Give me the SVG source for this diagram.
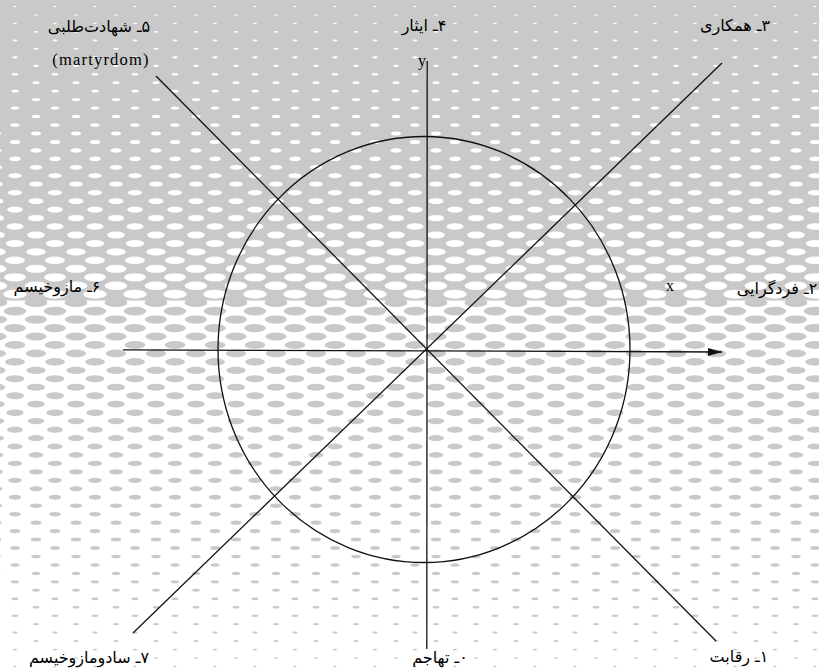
<svg xmlns="http://www.w3.org/2000/svg" width="819" height="669" viewBox="0 0 819 669">
<style>
.e,.o{fill:none;stroke-dasharray:0 40;stroke-linecap:round}
.e{stroke-dashoffset:4}
.o{stroke-dashoffset:25}
.w{stroke:#fff}
.g{stroke:#c9c9c9}
.ln{stroke:#111;stroke-width:1.3;fill:none}
.fa{font-family:"DejaVu Sans",sans-serif;font-size:16px;fill:#000;direction:rtl;text-anchor:middle}
.la{font-family:"Liberation Serif",serif;font-size:16px;fill:#000;text-anchor:middle}
</style>
<defs>
<marker id="ah" markerUnits="userSpaceOnUse" markerWidth="15" markerHeight="9" refX="14" refY="4.5" orient="auto"><path d="M0,0.5 L14,4.5 L0,8.5 z" fill="#111"/></marker>
</defs>
<g id="background">
<rect x="0" y="0" width="819" height="669" fill="#fff"/>
<rect x="0" y="0" width="819" height="300.5" fill="#c9c9c9"/>
<g transform="scale(1,0.38)">
<path class="e w" d="M-40 -5h900" stroke-width="2.92"/>
<path class="o w" d="M-40 17.26h900" stroke-width="3.27"/>
<path class="e w" d="M-40 39.53h900" stroke-width="3.62"/>
<path class="o w" d="M-40 61.79h900" stroke-width="3.99"/>
<path class="e w" d="M-40 84.05h900" stroke-width="4.38"/>
<path class="o w" d="M-40 106.32h900" stroke-width="4.78"/>
<path class="e w" d="M-40 128.58h900" stroke-width="5.19"/>
<path class="o w" d="M-40 150.84h900" stroke-width="5.62"/>
<path class="e w" d="M-40 173.11h900" stroke-width="6.06"/>
<path class="o w" d="M-40 195.37h900" stroke-width="6.52"/>
<path class="e w" d="M-40 217.63h900" stroke-width="6.99"/>
<path class="o w" d="M-40 239.89h900" stroke-width="7.48"/>
<path class="e w" d="M-40 262.16h900" stroke-width="7.98"/>
<path class="o w" d="M-40 284.42h900" stroke-width="8.49"/>
<path class="e w" d="M-40 306.68h900" stroke-width="9.02"/>
<path class="o w" d="M-40 328.95h900" stroke-width="9.56"/>
<path class="e w" d="M-40 351.21h900" stroke-width="10.12"/>
<path class="o w" d="M-40 373.47h900" stroke-width="10.69"/>
<path class="e w" d="M-40 395.74h900" stroke-width="11.28"/>
<path class="o w" d="M-40 418h900" stroke-width="11.88"/>
<path class="e w" d="M-40 440.26h900" stroke-width="12.49"/>
<path class="o w" d="M-40 462.53h900" stroke-width="13.12"/>
<path class="e w" d="M-40 484.79h900" stroke-width="13.76"/>
<path class="o w" d="M-40 507.05h900" stroke-width="14.42"/>
<path class="e w" d="M-40 529.32h900" stroke-width="15.09"/>
<path class="o w" d="M-40 551.58h900" stroke-width="15.78"/>
<path class="e w" d="M-40 573.84h900" stroke-width="16.48"/>
<path class="o w" d="M-40 596.11h900" stroke-width="17.19"/>
<path class="e w" d="M-40 618.37h900" stroke-width="17.92"/>
<path class="o w" d="M-40 640.63h900" stroke-width="18.66"/>
<path class="e w" d="M-40 662.89h900" stroke-width="19.42"/>
<path class="o w" d="M-40 685.16h900" stroke-width="20.19"/>
<path class="e w" d="M-40 707.42h900" stroke-width="20.98"/>
<path class="o w" d="M-40 729.68h900" stroke-width="21.78"/>
<path class="e w" d="M-40 751.95h900" stroke-width="22.59"/>
<path class="o w" d="M-40 774.21h900" stroke-width="23.42"/>
<path class="e g" d="M-40 796.47h900" stroke-width="22.92"/>
<path class="o g" d="M-40 818.74h900" stroke-width="22.47"/>
<path class="e g" d="M-40 841h900" stroke-width="22.02"/>
<path class="o g" d="M-40 863.26h900" stroke-width="21.57"/>
<path class="e g" d="M-40 885.53h900" stroke-width="21.13"/>
<path class="o g" d="M-40 907.79h900" stroke-width="20.68"/>
<path class="e g" d="M-40 930.05h900" stroke-width="20.23"/>
<path class="o g" d="M-40 952.32h900" stroke-width="19.78"/>
<path class="e g" d="M-40 974.58h900" stroke-width="19.33"/>
<path class="o g" d="M-40 996.84h900" stroke-width="18.88"/>
<path class="e g" d="M-40 1019.11h900" stroke-width="18.44"/>
<path class="o g" d="M-40 1041.37h900" stroke-width="17.99"/>
<path class="e g" d="M-40 1063.63h900" stroke-width="17.54"/>
<path class="o g" d="M-40 1085.89h900" stroke-width="17.09"/>
<path class="e g" d="M-40 1108.16h900" stroke-width="16.64"/>
<path class="o g" d="M-40 1130.42h900" stroke-width="16.19"/>
<path class="e g" d="M-40 1152.68h900" stroke-width="15.75"/>
<path class="o g" d="M-40 1174.95h900" stroke-width="15.3"/>
<path class="e g" d="M-40 1197.21h900" stroke-width="14.85"/>
<path class="o g" d="M-40 1219.47h900" stroke-width="14.4"/>
<path class="e g" d="M-40 1241.74h900" stroke-width="13.95"/>
<path class="o g" d="M-40 1264h900" stroke-width="13.5"/>
<path class="e g" d="M-40 1286.26h900" stroke-width="13.05"/>
<path class="o g" d="M-40 1308.53h900" stroke-width="12.61"/>
<path class="e g" d="M-40 1330.79h900" stroke-width="12.16"/>
<path class="o g" d="M-40 1353.05h900" stroke-width="11.71"/>
<path class="e g" d="M-40 1375.32h900" stroke-width="11.26"/>
<path class="o g" d="M-40 1397.58h900" stroke-width="10.81"/>
<path class="e g" d="M-40 1419.84h900" stroke-width="10.36"/>
<path class="o g" d="M-40 1442.11h900" stroke-width="9.92"/>
<path class="e g" d="M-40 1464.37h900" stroke-width="9.47"/>
<path class="o g" d="M-40 1486.63h900" stroke-width="9.02"/>
<path class="e g" d="M-40 1508.89h900" stroke-width="8.57"/>
<path class="o g" d="M-40 1531.16h900" stroke-width="8.12"/>
<path class="e g" d="M-40 1553.42h900" stroke-width="7.67"/>
<path class="o g" d="M-40 1575.68h900" stroke-width="7.23"/>
<path class="e g" d="M-40 1597.95h900" stroke-width="6.78"/>
<path class="o g" d="M-40 1620.21h900" stroke-width="6.33"/>
<path class="e g" d="M-40 1642.47h900" stroke-width="5.88"/>
<path class="o g" d="M-40 1664.74h900" stroke-width="5.43"/>
<path class="e g" d="M-40 1687h900" stroke-width="4.98"/>
<path class="o g" d="M-40 1709.26h900" stroke-width="4.54"/>
<path class="e g" d="M-40 1731.53h900" stroke-width="4.09"/>
<path class="o g" d="M-40 1753.79h900" stroke-width="3.64"/>
</g>
</g>
<g id="connectors">
<ellipse id="circle" class="ln" cx="424" cy="349.5" rx="206" ry="213"/>
<line id="axis-y" class="ln" x1="427.2" y1="61" x2="426.8" y2="649"/>
<line id="axis-x" class="ln" x1="123" y1="349.8" x2="722" y2="352" marker-end="url(#ah)"/>
<line id="diag-5-1" class="ln" x1="156" y1="76" x2="716" y2="641"/>
<line id="diag-3-7" class="ln" x1="722" y1="63" x2="133" y2="633"/>
</g>
<g id="node-5"><text class="fa" x="99" y="32">۵ـ شهادت‌طلبی</text><text class="la" x="101" y="65" style="letter-spacing:1.2px;font-size:16.5px">(martyrdom)</text></g>
<g id="node-4"><text class="fa" x="424" y="31">۴ـ ایثار</text></g>
<g id="node-3"><text class="fa" x="735" y="31">۳ـ همکاری</text></g>
<g id="node-6"><text class="fa" x="57" y="292">۶ـ مازوخیسم</text></g>
<g id="node-2"><text class="fa" x="777" y="294">۲ـ فردگرایی</text></g>
<g id="node-7"><text class="fa" x="89" y="663">۷ـ سادومازوخیسم</text></g>
<g id="node-0"><text class="fa" x="440" y="663">۰ـ تهاجم</text></g>
<g id="node-1"><text class="fa" x="739" y="662">۱ـ رقابت</text></g>
<g id="label-x"><text class="la" x="670" y="291">x</text></g>
<g id="label-y"><text class="la" x="422" y="66">y</text></g>
</svg>
